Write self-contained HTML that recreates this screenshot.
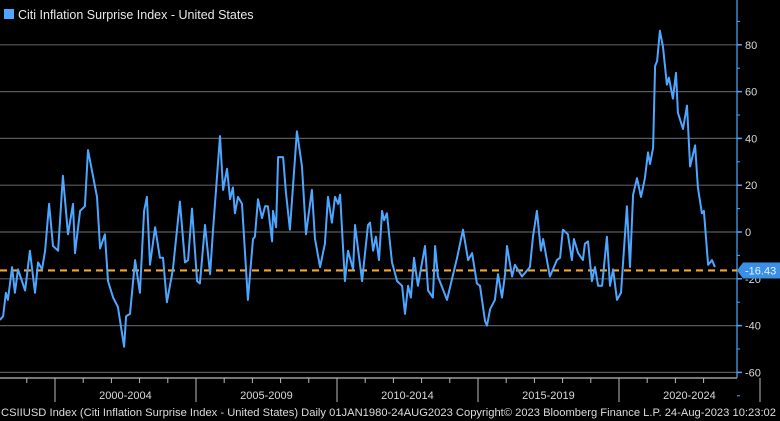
<!DOCTYPE html>
<html><head><meta charset="utf-8"><style>
html,body{margin:0;padding:0;background:#000;width:780px;height:421px;overflow:hidden}
svg{display:block;font-family:"Liberation Sans",sans-serif}
</style></head><body>
<svg id="chart" width="780" height="421" viewBox="0 0 780 421">
<rect x="0" y="0" width="780" height="421" fill="#000"/>
<g id="grid"></g><g id="xaxis"></g><g id="yaxis"></g><g id="series"></g>
<rect x="4" y="9" width="10" height="10" fill="#4da6ff"/>
<text x="18" y="19" fill="#e8e8e8" font-size="12.5">Citi Inflation Surprise Index - United States</text>
<text x="1" y="416" fill="#dcdcdc" font-size="11" textLength="775" lengthAdjust="spacingAndGlyphs">CSIIUSD Index (Citi Inflation Surprise Index - United States)  Daily 01JAN1980-24AUG2023  Copyright© 2023 Bloomberg Finance L.P.  24-Aug-2023 10:23:02</text>
</svg>
<script>
const years=[1998.05,1998.16,1998.26,1998.33,1998.48,1998.58,1998.69,1998.94,1999.11,1999.29,1999.40,1999.54,1999.65,1999.79,1999.93,2000.11,2000.28,2000.46,2000.64,2000.71,2000.89,2001.06,2001.17,2001.49,2001.60,2001.77,2001.88,2002.06,2002.23,2002.45,2002.52,2002.66,2002.84,2003.01,2003.16,2003.26,2003.37,2003.55,2003.72,2003.83,2003.97,2004.18,2004.43,2004.61,2004.72,2004.86,2005.04,2005.14,2005.32,2005.50,2005.60,2005.85,2005.96,2006.10,2006.21,2006.31,2006.38,2006.49,2006.63,2006.84,2007.02,2007.09,2007.20,2007.34,2007.45,2007.55,2007.70,2007.73,2007.84,2007.91,2008.09,2008.19,2008.33,2008.58,2008.76,2008.90,2009.11,2009.22,2009.40,2009.57,2009.68,2009.82,2009.93,2010.04,2010.11,2010.28,2010.39,2010.57,2010.64,2010.89,2011.10,2011.17,2011.28,2011.38,2011.49,2011.60,2011.67,2011.77,2011.95,2012.13,2012.31,2012.41,2012.52,2012.62,2012.73,2012.87,2013.12,2013.23,2013.40,2013.48,2013.58,2013.90,2014.26,2014.47,2014.65,2014.79,2014.96,2015.07,2015.25,2015.32,2015.43,2015.60,2015.71,2015.85,2015.96,2016.03,2016.21,2016.31,2016.56,2016.84,2016.95,2017.09,2017.23,2017.31,2017.55,2017.80,2017.91,2018.01,2018.19,2018.33,2018.40,2018.55,2018.72,2018.79,2018.90,2019.04,2019.15,2019.26,2019.40,2019.57,2019.68,2019.79,2019.93,2020.07,2020.28,2020.39,2020.50,2020.64,2020.78,2020.92,2021.03,2021.10,2021.21,2021.28,2021.35,2021.45,2021.56,2021.70,2021.77,2021.91,2022.02,2022.09,2022.27,2022.41,2022.52,2022.70,2022.80,2022.94,2023.01,2023.16,2023.30,2023.40];
const values=[-37.6,-36,-26,-29,-15,-26,-16,-25,-8,-26,-13,-16,-8,12,-6,-8,24,-1,12,-9,9,11,35,15,-7,-1,-21,-28,-32,-49,-36,-35,-12,-26,9,15,-14,2,-11,-11,-30,-16,13,-13,-12,10,-21,-22,3,-18,0,41,18,27,14,19,8,15,12,-29,-3,-2,14,6,11,11,-4,9,2,32,32,17,1,43,28,-1,18,-3,-15,-5,15,4,15,12,16,-21,-8,-16,3,-21,3,4,-8,-2,-12,9,5,8,-13,-21,-23,-35,-23,-28,-11,-23,-6,-25,-28,-6,-19,-29,-11,1,-12,-9,-22,-23,-38,-40,-33,-29,-18,-28,-18,-6,-19,-14,-19,-15,-2,9,-8,-3,-19,-12,-11,1,-1,-12,-3,-9,-12,-5,-4,-21,-15,-23,-23,-2,-23,-16,-29,-26,11,-15,16,23,15,23,34,29,36,71,73,86,79,63,66,57,68,51,44,54,28,37,19,8,9,-14,-12,-15];
const yTicks=[80,60,40,20,0,-20,-40,-60];
const periodLabels=["2000-2004","2005-2009","2010-2014","2015-2019","2020-2024"];
const periodStarts=[2000,2005,2010,2015,2020];
const lastValue=-16.43;
const NS="http://www.w3.org/2000/svg";
const X0=1998.05,PXY=28.2,AXR=737;
function xs(y){return (y-X0)*PXY;}
function ys(v){return 232-v*2.34;}
function mk(tag,attrs,parent){const e=document.createElementNS(NS,tag);for(const k in attrs)e.setAttribute(k,attrs[k]);parent.appendChild(e);return e;}
const grid=document.getElementById('grid'),ya=document.getElementById('yaxis'),xa=document.getElementById('xaxis'),se=document.getElementById('series');
yTicks.forEach(t=>{
  const g=mk('line',{x1:0,x2:AXR,y1:ys(t),y2:ys(t),stroke:'#5a5a5a','stroke-width':1.2},grid);
  
  
  mk('line',{x1:AXR,x2:AXR+5,y1:ys(t),y2:ys(t),stroke:'#4da6ff','stroke-width':1.5},ya);
  const tx=mk('text',{x:AXR+8,y:ys(t)+4,fill:'#d8d8d8','font-size':11},ya);
  tx.textContent=t;
  
  
});
for(let v=-70;v<=90;v+=10){mk('line',{x1:AXR,x2:AXR+3,y1:ys(v),y2:ys(v),stroke:'#4da6ff','stroke-width':1},ya);}
const yl=mk('line',{x1:AXR,x2:AXR,y1:0,y2:378,stroke:'#4da6ff','stroke-width':1.2},ya);


const xl=mk('line',{x1:0,x2:AXR,y1:378,y2:378,stroke:'#bbbbbb','stroke-width':1.2},xa);


for(let y=1999;y<=2023;y++){mk('line',{x1:xs(y),x2:xs(y),y1:378,y2:383,stroke:'#bbbbbb','stroke-width':1},xa);}
periodStarts.forEach((p,i)=>{
  mk('line',{x1:xs(p),x2:xs(p),y1:378,y2:402,stroke:'#bbbbbb','stroke-width':1},xa);
  const tx=mk('text',{x:xs(p+2.5),y:399,fill:'#d8d8d8','font-size':11,'text-anchor':'middle'},xa);
  tx.textContent=periodLabels[i];
  
  
});
mk('line',{x1:xs(2025),x2:xs(2025),y1:378,y2:402,stroke:'#bbbbbb','stroke-width':1},xa);
const dash=mk('line',{x1:0,x2:AXR,y1:ys(lastValue),y2:ys(lastValue),stroke:'#f5a623','stroke-width':2.2,'stroke-dasharray':'7,5'},se);


const line=mk('polyline',{points:years.map((y,i)=>xs(y).toFixed(1)+','+ys(values[i]).toFixed(1)).join(' '),fill:'none',stroke:'#4da6ff','stroke-width':2,'stroke-linejoin':'round'},se);


const ly=ys(lastValue);
const tag=mk('polygon',{points:`${AXR},${ly} ${AXR+6},${ly-8} 780,${ly-8} 780,${ly+8} ${AXR+6},${ly+8}`,fill:'#3a8fe6'},se);


const tt=mk('text',{x:AXR+8,y:ly+4,fill:'#e8f2ff','font-size':11},se);
tt.textContent=lastValue.toFixed(2);


</script>
</body></html>
